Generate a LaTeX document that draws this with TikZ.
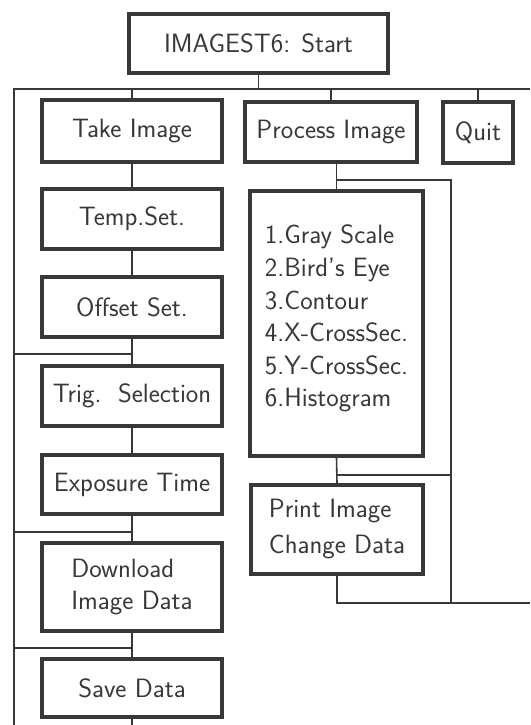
\documentclass[tikz,border=0pt]{standalone}
\usepackage{fontspec}
\newcommand{\boxfont}[2]{\sffamily\addfontfeatures{FakeStretch=1.06,FakeBold=0.4}\fontsize{#1}{#2}\selectfont}
\newcommand{\listfont}[2]{\sffamily\addfontfeatures{FakeBold=0.4}\fontsize{#1}{#2}\selectfont}
\begin{document}
\begin{tikzpicture}[x=1pt,y=-1pt,
  ink/.style={draw=black!78},
  box/.style={ink,line width=3.2pt,fill=white,inner sep=0pt,align=left,
    font=\boxfont{26.5}{32},text=black!78},
  conn/.style={ink,line width=1.6pt}]
\useasboundingbox (0,0) rectangle (530,725);
% nodes
\node[box,minimum width=259pt,minimum height=59pt] (start) at (258.5,43.5) {IMAGEST6: Start};
\node[box,minimum width=180pt,minimum height=62pt] (take) at (132,131) {Take Image};
\node[box,minimum width=172pt,minimum height=60pt] (proc) at (331,132) {Process Image};
\node[box,minimum width=70pt,minimum height=61pt] (quit) at (478,132.5) {Quit};
\node[box,minimum width=180pt,minimum height=60pt] (temp) at (132,219) {Temp.Set.};
\node[box,minimum width=180pt,minimum height=60pt] (offset) at (132,307) {Offset Set.};
\node[box,minimum width=180pt,minimum height=60pt] (trig) at (132,396) {Trig.\ \ Selection};
\node[box,minimum width=180pt,minimum height=59pt] (expo) at (132,484.5) {Exposure Time};
\node[box,minimum width=180pt,minimum height=88pt] (down) at (132,587) {Download\\Image Data};
\node[box,minimum width=180pt,minimum height=58pt] (save) at (132,688) {Save Data};
\node[box,minimum width=173pt,minimum height=265pt,font=\listfont{26.5}{32.6}] (list) at (336.5,323.5) {1.Gray Scale\\2.Bird's Eye\\3.Contour\\4.X-CrossSec.\\5.Y-CrossSec.\\6.Histogram\rule[-15pt]{0pt}{15pt}};
\node[box,minimum width=172pt,minimum height=89pt,font=\boxfont{26.5}{36}] (print) at (337,529.5) {Print Image\\Change Data};
% coordinates
\coordinate (topL) at (14,89);
\coordinate (topR) at (530,89);
\coordinate (botL) at (14,725);
\coordinate (b1) at (14,354);
\coordinate (j1) at (132,354);
\coordinate (b2) at (14,532);
\coordinate (j2) at (132,532);
\coordinate (b3) at (14,648);
\coordinate (j3) at (132,648);
\coordinate (saveEnd) at (132,725);
\coordinate (p1) at (336.5,180);
\coordinate (r1) at (451,180);
\coordinate (p2) at (336.5,475);
\coordinate (q2) at (451,475);
\coordinate (p3) at (337,603);
\coordinate (r3) at (451,603);
\coordinate (rEnd) at (530,603);
% connectors
\draw[conn] (start.south) -- (start.south |- topL);
\draw[conn] (topR) -- (topL) -- (botL);
\draw[conn] (take.north |- topL) -- (take.north);
\draw[conn] (proc.north |- topL) -- (proc.north);
\draw[conn] (quit.north |- topL) -- (quit.north);
\draw[conn] (take.south) -- (temp.north);
\draw[conn] (temp.south) -- (offset.north);
\draw[conn] (offset.south) -- (trig.north);
\draw[conn] (trig.south) -- (expo.north);
\draw[conn] (expo.south) -- (down.north);
\draw[conn] (down.south) -- (save.north);
\draw[conn] (save.south) -- (saveEnd);
\draw[conn] (b1) -- (j1);
\draw[conn] (b2) -- (j2);
\draw[conn] (b3) -- (j3);
\draw[conn] (list.north |- proc.south) -- (list.north);
\draw[conn] (p1) -- (r1) -- (r3);
\draw[conn] (list.south) -- (print.north);
\draw[conn] (p2) -- (q2);
\draw[conn] (print.south) -- (p3) -- (rEnd);
\end{tikzpicture}
\end{document}
